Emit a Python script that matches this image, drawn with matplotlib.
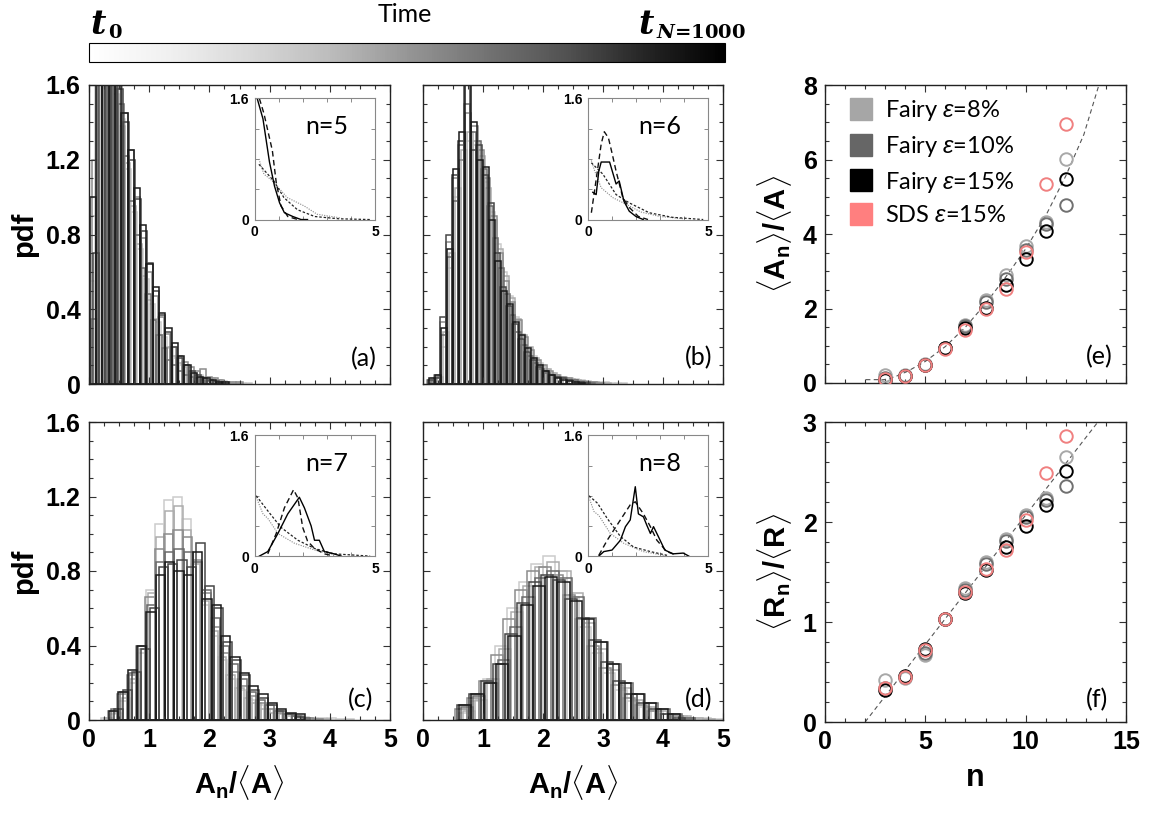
import numpy as np
import matplotlib
matplotlib.use('Agg')
import matplotlib.pyplot as plt
from matplotlib.lines import Line2D
from matplotlib.ticker import MultipleLocator, NullFormatter
from matplotlib.colorbar import ColorbarBase

plt.rcParams['mathtext.fontset'] = 'custom'
plt.rcParams['mathtext.rm'] = 'Liberation Sans'
plt.rcParams['mathtext.bf'] = 'Liberation Sans:bold'
plt.rcParams['mathtext.it'] = 'Liberation Sans:italic'

TICKFONT = dict(family='Liberation Sans', weight='bold', size=18)
CALIBRI = 'Lato'

# ---------------- histogram snapshots (pdf of A_n/<A>), light -> dark = early -> late
snap_greys = [0.8, 0.68, 0.55, 0.42, 0.28, 0.1]

# (a) n=5
a_starts = [0.0, 0.02, 0.05, 0.035, 0.065, 0.01]
a_widths = [0.1, 0.095, 0.1, 0.09, 0.1, 0.105]
a_snaps = [
    [0.55, 1.72, 1.85, 1.78, 1.62, 1.42, 1.15, 0.92, 0.72, 0.56, 0.43, 0.33, 0.25, 0.19, 0.14, 0.1, 0.08, 0.06, 0.05, 0.03, 0.03, 0.02, 0.015, 0.01, 0.01, 0.005, 0.005],
    [0.9, 1.8, 1.9, 1.7, 1.55, 1.38, 1.18, 0.95, 0.75, 0.58, 0.45, 0.35, 0.26, 0.2, 0.15, 0.11, 0.09, 0.07, 0.05, 0.04, 0.03, 0.02, 0.02, 0.01, 0.005, 0.005, 0],
    [1.2, 1.65, 1.75, 1.8, 1.6, 1.45, 1.25, 1.0, 0.78, 0.6, 0.47, 0.36, 0.27, 0.2, 0.15, 0.12, 0.09, 0.07, 0.08, 0.04, 0.03, 0.02, 0.01, 0.01, 0.01, 0, 0],
    [0.35, 1.6, 1.9, 1.85, 1.7, 1.5, 1.22, 0.98, 0.8, 0.62, 0.48, 0.34, 0.26, 0.19, 0.13, 0.1, 0.07, 0.05, 0.04, 0.03, 0.02, 0.015, 0.01, 0.005, 0, 0, 0],
    [0.7, 1.75, 1.8, 1.72, 1.58, 1.4, 1.2, 0.99, 0.82, 0.65, 0.5, 0.37, 0.28, 0.2, 0.14, 0.1, 0.07, 0.05, 0.03, 0.02, 0.015, 0.01, 0, 0, 0, 0, 0],
    [1.0, 1.85, 1.75, 1.65, 1.6, 1.45, 1.25, 1.05, 0.85, 0.64, 0.52, 0.38, 0.3, 0.22, 0.15, 0.1, 0.06, 0.04, 0.03, 0.02, 0.01, 0.01, 0, 0, 0, 0, 0],
]

# (b) n=6
b_starts = [0.1, 0.13, 0.07, 0.115, 0.085, 0.1]
b_widths = [0.1, 0.1, 0.105, 0.095, 0.1, 0.1]
b_snaps = [
    [0.02, 0.03, 0.2, 0.62, 1.0, 1.2, 1.3, 1.28, 1.2, 1.08, 0.92, 0.75, 0.6, 0.47, 0.36, 0.27, 0.2, 0.15, 0.11, 0.08, 0.06, 0.05, 0.04, 0.03, 0.025, 0.02, 0.015, 0.01, 0.01, 0.01, 0.005, 0.005, 0.005],
    [0.03, 0.04, 0.28, 0.7, 1.05, 1.25, 1.35, 1.3, 1.22, 1.05, 0.88, 0.72, 0.58, 0.46, 0.35, 0.26, 0.2, 0.14, 0.1, 0.08, 0.06, 0.04, 0.03, 0.025, 0.02, 0.015, 0.01, 0.01, 0.005, 0.005, 0, 0, 0],
    [0.02, 0.05, 0.33, 0.76, 1.1, 1.2, 1.45, 1.38, 1.25, 1.1, 0.9, 0.7, 0.55, 0.44, 0.34, 0.25, 0.18, 0.13, 0.1, 0.07, 0.05, 0.04, 0.03, 0.02, 0.015, 0.01, 0.01, 0.005, 0, 0, 0, 0, 0],
    [0.01, 0.04, 0.26, 0.68, 0.98, 1.28, 1.5, 1.35, 1.3, 1.15, 0.95, 0.78, 0.62, 0.48, 0.37, 0.28, 0.21, 0.15, 0.11, 0.08, 0.06, 0.05, 0.04, 0.03, 0.02, 0.02, 0.01, 0.01, 0.005, 0, 0, 0, 0],
    [0.02, 0.03, 0.36, 0.8, 1.12, 1.3, 1.62, 1.25, 1.28, 1.12, 0.97, 0.7, 0.52, 0.42, 0.32, 0.24, 0.17, 0.13, 0.09, 0.07, 0.05, 0.04, 0.03, 0.02, 0.01, 0.01, 0.005, 0, 0, 0, 0, 0, 0],
    [0.03, 0.05, 0.3, 0.72, 1.15, 1.35, 1.7, 1.4, 1.2, 1.16, 0.88, 0.66, 0.5, 0.43, 0.33, 0.26, 0.19, 0.14, 0.1, 0.07, 0.05, 0.03, 0.02, 0.015, 0.01, 0.005, 0, 0, 0, 0, 0, 0, 0],
]

# (c) n=7
c_starts = [0.2, 0.25, 0.16, 0.22, 0.27, 0.18]
c_widths = [0.15, 0.145, 0.155, 0.15, 0.15, 0.155]
c_snaps = [
    [0.01, 0.03, 0.1, 0.2, 0.36, 0.7, 1.05, 1.18, 1.2, 1.08, 0.85, 0.62, 0.45, 0.32, 0.22, 0.16, 0.11, 0.08, 0.06, 0.04, 0.03, 0.02, 0.015, 0.01, 0.01, 0.01, 0.005, 0.005],
    [0.01, 0.04, 0.12, 0.22, 0.38, 0.68, 0.98, 1.12, 1.15, 1.02, 0.84, 0.64, 0.48, 0.34, 0.24, 0.17, 0.12, 0.09, 0.06, 0.04, 0.03, 0.02, 0.01, 0.01, 0.005, 0.005, 0, 0],
    [0.0, 0.05, 0.14, 0.24, 0.4, 0.66, 0.92, 1.0, 1.02, 0.98, 0.86, 0.68, 0.5, 0.36, 0.26, 0.18, 0.13, 0.09, 0.06, 0.04, 0.03, 0.02, 0.01, 0.005, 0, 0, 0, 0],
    [0.0, 0.06, 0.15, 0.25, 0.4, 0.62, 0.85, 0.9, 0.92, 0.9, 0.85, 0.7, 0.55, 0.4, 0.3, 0.22, 0.15, 0.11, 0.08, 0.05, 0.03, 0.02, 0.01, 0, 0, 0, 0, 0],
    [0.0, 0.06, 0.16, 0.26, 0.38, 0.6, 0.82, 0.84, 0.86, 0.82, 0.95, 0.72, 0.6, 0.42, 0.32, 0.24, 0.16, 0.12, 0.08, 0.05, 0.03, 0.015, 0, 0, 0, 0, 0, 0],
    [0.0, 0.05, 0.15, 0.27, 0.4, 0.58, 0.78, 0.85, 0.8, 0.78, 0.9, 0.65, 0.62, 0.45, 0.34, 0.25, 0.18, 0.14, 0.09, 0.06, 0.04, 0.03, 0, 0, 0, 0, 0, 0],
]

# (d) n=8
d_starts = [0.6, 0.66, 0.54, 0.63, 0.57, 0.6]
d_widths = [0.2, 0.2, 0.2, 0.205, 0.2, 0.205]
d_snaps = [
    [0.04, 0.1, 0.22, 0.4, 0.6, 0.74, 0.84, 0.88, 0.8, 0.66, 0.5, 0.36, 0.25, 0.16, 0.1, 0.07, 0.05, 0.03, 0.02, 0.01, 0.01, 0.005],
    [0.05, 0.11, 0.22, 0.38, 0.58, 0.72, 0.82, 0.85, 0.8, 0.68, 0.52, 0.38, 0.27, 0.17, 0.11, 0.07, 0.05, 0.03, 0.02, 0.01, 0.005, 0.0],
    [0.06, 0.12, 0.21, 0.35, 0.54, 0.7, 0.8, 0.82, 0.78, 0.67, 0.54, 0.4, 0.28, 0.19, 0.12, 0.08, 0.05, 0.03, 0.02, 0.01, 0.0, 0.0],
    [0.07, 0.13, 0.2, 0.32, 0.5, 0.66, 0.76, 0.8, 0.76, 0.66, 0.55, 0.42, 0.3, 0.2, 0.14, 0.09, 0.06, 0.03, 0.01, 0.0, 0.0, 0.0],
    [0.08, 0.14, 0.21, 0.3, 0.46, 0.63, 0.74, 0.78, 0.75, 0.65, 0.55, 0.43, 0.31, 0.21, 0.14, 0.09, 0.06, 0.03, 0.01, 0.0, 0.0, 0.0],
    [0.08, 0.14, 0.2, 0.3, 0.45, 0.62, 0.72, 0.77, 0.74, 0.64, 0.54, 0.42, 0.3, 0.2, 0.14, 0.09, 0.06, 0.03, 0.0, 0.0, 0.0, 0.0],
]

# ---------------- inset curves (x, y) per panel
inset_a = {
    'solid':   ([0.11, 0.35, 0.62, 0.83, 1.04, 1.24, 1.59, 1.93, 2.2], [1.6, 1.33, 0.76, 0.44, 0.22, 0.09, 0.04, 0.0, 0.0]),
    'dashed':  ([0.2, 0.39, 0.74, 0.9, 1.1, 1.38, 1.8], [1.6, 1.4, 0.91, 0.49, 0.18, 0.04, 0.0]),
    'dashdot': ([0.18, 0.8, 1.22, 1.78, 2.5, 3.5, 4.8], [0.73, 0.51, 0.29, 0.13, 0.04, 0.01, 0.0]),
    'dotted':  ([0.18, 0.39, 0.67, 0.94, 1.36, 2.06, 2.6, 3.6], [0.8, 0.6, 0.53, 0.44, 0.29, 0.18, 0.07, 0.02]),
}
inset_b = {
    'solid':   ([0.2, 0.34, 0.45, 0.55, 0.9, 1.03, 1.17, 1.3, 1.5, 1.72, 2.0, 2.3], [0.36, 0.33, 0.64, 0.76, 0.76, 0.62, 0.47, 0.51, 0.24, 0.11, 0.04, 0.0]),
    'dashed':  ([0.14, 0.35, 0.55, 0.68, 0.85, 1.0, 1.17, 1.45, 1.72, 2.1, 2.5], [0.09, 0.55, 1.0, 1.16, 1.08, 0.88, 0.64, 0.29, 0.16, 0.04, 0.0]),
    'dashdot': ([0.14, 0.62, 1.17, 1.72, 2.55, 3.5, 4.8], [0.75, 0.6, 0.33, 0.22, 0.09, 0.03, 0.0]),
    'dotted':  ([0.14, 0.28, 0.55, 1.03, 1.6, 2.2, 3.0, 4.0], [0.78, 0.64, 0.42, 0.29, 0.2, 0.1, 0.04, 0.01]),
}
inset_c = {
    'solid':   ([0.2, 0.55, 0.97, 1.38, 1.86, 2.07, 2.35, 2.49, 2.69, 2.9, 3.3, 3.6], [0.0, 0.06, 0.3, 0.56, 0.78, 0.64, 0.4, 0.21, 0.21, 0.06, 0.03, 0.0]),
    'dashed':  ([0.55, 0.9, 1.24, 1.62, 1.8, 2.0, 2.2, 2.49, 2.9, 3.3], [0.03, 0.3, 0.64, 0.88, 0.77, 0.38, 0.2, 0.1, 0.03, 0.0]),
    'dashdot': ([0.07, 0.55, 1.1, 1.8, 2.5, 3.3, 4.8], [0.8, 0.6, 0.38, 0.21, 0.1, 0.03, 0.0]),
    'dotted':  ([0.07, 0.35, 0.55, 0.97, 1.66, 2.5, 3.3], [0.78, 0.56, 0.5, 0.3, 0.17, 0.08, 0.02]),
}
inset_d = {
    'solid':   ([0.45, 0.66, 1.0, 1.35, 1.56, 1.76, 1.97, 2.1, 2.31, 2.45, 2.6, 2.73, 2.93, 3.2, 3.55, 3.97, 4.2],
                [0.0, 0.06, 0.08, 0.21, 0.39, 0.48, 0.92, 0.56, 0.52, 0.41, 0.3, 0.39, 0.26, 0.08, 0.03, 0.04, 0.0]),
    'dashed':  ([0.45, 0.8, 1.35, 1.76, 1.97, 2.31, 2.6, 2.87, 3.28, 3.7], [0.01, 0.21, 0.48, 0.68, 0.72, 0.56, 0.39, 0.21, 0.06, 0.01]),
    'dashdot': ([0.04, 0.4, 0.8, 1.35, 1.9, 2.6, 3.3], [0.8, 0.7, 0.5, 0.26, 0.12, 0.06, 0.01]),
    'dotted':  ([0.04, 0.25, 0.45, 0.93, 1.49, 2.3, 3.3], [0.78, 0.59, 0.54, 0.3, 0.17, 0.06, 0.0]),
}

# ---------------- scatter panels
n_vals = [3, 4, 5, 6, 7, 8, 9, 10, 11, 12]
series_labels = ['Fairy $\\varepsilon$=8%', 'Fairy $\\varepsilon$=10%', 'Fairy $\\varepsilon$=15%', 'SDS $\\varepsilon$=15%']
e_fairy8 = [0.22, 0.21, 0.5, 0.94, 1.56, 2.24, 2.89, 3.69, 4.31, 6.02]
e_fairy10 = [0.13, 0.2, 0.49, 0.93, 1.52, 2.18, 2.8, 3.56, 4.27, 4.77]
e_fairy15 = [0.08, 0.2, 0.48, 0.93, 1.47, 2.02, 2.62, 3.33, 4.07, 5.48]
e_sds15 = [0.1, 0.19, 0.47, 0.91, 1.43, 1.98, 2.52, 3.53, 5.33, 6.96]
f_fairy8 = [0.42, 0.44, 0.67, 1.03, 1.34, 1.6, 1.83, 2.07, 2.24, 2.65]
f_fairy10 = [0.34, 0.45, 0.69, 1.03, 1.32, 1.58, 1.81, 2.05, 2.22, 2.36]
f_fairy15 = [0.32, 0.46, 0.73, 1.03, 1.29, 1.52, 1.75, 1.96, 2.17, 2.51]
f_sds15 = [0.34, 0.45, 0.72, 1.03, 1.3, 1.53, 1.72, 2.02, 2.49, 2.86]
e_fit_x = [2.04, 2.95, 3.5, 4.1, 5.0, 6.0, 7.0, 8.0, 9.0, 10.0, 11.0, 12.0, 12.9, 13.65]
e_fit_y = [0.09, 0.09, 0.17, 0.31, 0.58, 0.98, 1.5, 2.13, 2.84, 3.6, 4.49, 5.56, 6.67, 8.0]
f_fit_x = [2.0, 13.6]
f_fit_y = [0.0, 3.0]

circle_colors = ['#a8a8a8', '#707070', '#000000', '#f08080']
legend_colors = ['#a6a6a6', '#666666', '#000000', '#ff7f7f']

W, H = 1157, 816
fig = plt.figure(figsize=(W / 100, H / 100), dpi=100)


def box(x0, y0, x1, y1):
    return [x0 / W, 1 - y1 / H, (x1 - x0) / W, (y1 - y0) / H]


def style_axes(ax):
    for s in ax.spines.values():
        s.set_linewidth(1.0)
        s.set_color('#222222')
    ax.tick_params(which='both', direction='in', top=True, right=True, width=0.8, color='#333333')
    ax.tick_params(which='major', length=5, pad=6)
    ax.tick_params(which='minor', length=3)
    for lab in ax.get_xticklabels() + ax.get_yticklabels():
        lab.set_fontproperties(dict(TICKFONT))


def draw_hists(ax, starts, widths, snaps):
    for vals, x0, w, g in zip(snaps, starts, widths, snap_greys):
        vals = np.asarray(vals, dtype=float)
        lefts = x0 + w * np.arange(len(vals))
        keep = vals > 0
        ax.bar(lefts[keep], vals[keep], width=w, align='edge', fill=False,
               edgecolor=str(g), linewidth=1.1)


def draw_inset(ax, curves, label):
    ins = ax.inset_axes([0.55, 0.55, 0.40, 0.405])
    x, y = curves['dotted']
    ins.plot(x, y, color='#888888', lw=0.8, ls=(0, (1, 1.2)))
    x, y = curves['dashdot']
    ins.plot(x, y, color='#222222', lw=0.9, ls=(0, (2, 1.5)))
    x, y = curves['dashed']
    ins.plot(x, y, color='#111111', lw=1.0, ls=(0, (4, 2.5)))
    x, y = curves['solid']
    ins.plot(x, y, color='#000000', lw=1.0)
    ins.set_xlim(0, 5)
    ins.set_ylim(0, 1.6)
    ins.set_xticks([0, 5])
    ins.set_yticks([0, 1.6])
    ins.set_yticklabels(['0', '1.6'])
    ins.xaxis.set_minor_locator(MultipleLocator(1))
    ins.yaxis.set_minor_locator(MultipleLocator(0.4))
    ins.tick_params(which='both', direction='in', top=True, right=True, color='#777777', width=0.6)
    ins.tick_params(which='major', length=0, pad=4)
    ins.tick_params(which='minor', length=3)
    for lab in ins.get_xticklabels() + ins.get_yticklabels():
        lab.set_fontproperties(dict(family='Liberation Sans', weight='bold', size=10))
    for s in ins.spines.values():
        s.set_color('#888888')
        s.set_linewidth(0.8)
    ins.text(0.6, 0.77, label, transform=ins.transAxes, ha='center', va='center',
             family=CALIBRI, fontsize=18)


hist_specs = [
    ('a', box(89, 85, 390, 384), a_starts, a_widths, a_snaps, inset_a, 'n=5', (0.955, 0.045)),
    ('b', box(423, 85, 723, 384), b_starts, b_widths, b_snaps, inset_b, 'n=6', (0.965, 0.05)),
    ('c', box(89, 422, 390, 720), c_starts, c_widths, c_snaps, inset_c, 'n=7', (0.945, 0.03)),
    ('d', box(423, 422, 723, 720), d_starts, d_widths, d_snaps, inset_d, 'n=8', (0.965, 0.03)),
]

for key, rect, starts, widths, snaps, curves, nlabel, tpos in hist_specs:
    ax = fig.add_axes(rect)
    draw_hists(ax, starts, widths, snaps)
    ax.set_xlim(0, 5)
    ax.set_ylim(0, 1.6)
    ax.set_xticks([0, 1, 2, 3, 4, 5])
    ax.set_yticks([0, 0.4, 0.8, 1.2, 1.6])
    ax.set_yticklabels(['0', '0.4', '0.8', '1.2', '1.6'])
    ax.xaxis.set_minor_locator(MultipleLocator(0.25))
    ax.yaxis.set_minor_locator(MultipleLocator(0.1))
    style_axes(ax)
    if key in ('a', 'b'):
        ax.xaxis.set_major_formatter(NullFormatter())
    else:
        ax.set_xlabel(r'$\mathbf{A_n/\langle A\rangle}$', fontsize=21, labelpad=8)
    if key in ('b', 'd'):
        ax.yaxis.set_major_formatter(NullFormatter())
    else:
        ax.set_ylabel('pdf', family='Liberation Sans', weight='bold', fontsize=21)
        ax.yaxis.set_label_coords(-0.17, 0.5)
    draw_inset(ax, curves, nlabel)
    ax.text(tpos[0], tpos[1], '(%s)' % key, transform=ax.transAxes, ha='right', va='bottom',
            family=CALIBRI, fontsize=18)

# ---------------- (e) and (f)
scatter_specs = [
    ('e', box(825, 85, 1126, 383), [e_fairy8, e_fairy10, e_fairy15, e_sds15], e_fit_x, e_fit_y,
     (0, 8), [0, 2, 4, 6, 8], 0.5, r'$\mathbf{\langle A_n\rangle/\langle A\rangle}$', (0.957, 0.05)),
    ('f', box(825, 422, 1126, 722), [f_fairy8, f_fairy10, f_fairy15, f_sds15], f_fit_x, f_fit_y,
     (0, 3), [0, 1, 2, 3], 0.2, r'$\mathbf{\langle R_n\rangle/\langle R\rangle}$', (0.94, 0.035)),
]

for key, rect, series, fx, fy, ylim, yticks, yminor, ylabel, tpos in scatter_specs:
    ax = fig.add_axes(rect)
    ax.plot(fx, fy, color='#555555', lw=0.8, ls=(0, (4, 3)), zorder=1)
    order = [3, 0, 1, 2]
    for i in order:
        ax.plot(n_vals, series[i], ls='none', marker='o', ms=9, mfc='none',
                mec=circle_colors[i], mew=1.4, zorder=2 + i)
    ax.set_xlim(0, 15)
    ax.set_ylim(*ylim)
    ax.set_xticks([0, 5, 10, 15])
    ax.set_yticks(yticks)
    ax.xaxis.set_minor_locator(MultipleLocator(1))
    ax.yaxis.set_minor_locator(MultipleLocator(yminor))
    style_axes(ax)
    ax.set_ylabel(ylabel, fontsize=21, labelpad=6)
    if key == 'e':
        ax.xaxis.set_major_formatter(NullFormatter())
        handles = [Line2D([], [], ls='none', marker='s', ms=16, mfc=c, mec=c) for c in legend_colors]
        ax.legend(handles, series_labels, loc='upper left', bbox_to_anchor=(0.04, 0.995), frameon=False,
                  prop=dict(family=CALIBRI, size=17), handlelength=1.0, handletextpad=0.55,
                  labelspacing=0.45, borderaxespad=0.3, borderpad=0.2)
    else:
        ax.set_xlabel('n', family='Liberation Sans', weight='bold', fontsize=22, labelpad=6)
    ax.text(tpos[0], tpos[1], '(%s)' % key, transform=ax.transAxes, ha='right', va='bottom',
            family=CALIBRI, fontsize=18)

# ---------------- time colour bar
cax = fig.add_axes(box(89, 43, 725, 62))
ColorbarBase(cax, cmap=plt.get_cmap('Greys'), orientation='horizontal', ticks=[])
for s in cax.spines.values():
    s.set_linewidth(0.8)
fig.text(405 / W, 1 - 14 / H, 'Time', ha='center', va='center', family=CALIBRI, fontsize=18)
fig.text(90 / W, 1 - 34 / H, r'$\mathbfit{t}$', ha='left', va='baseline',
         fontsize=24, math_fontfamily='dejavuserif')
fig.text(108 / W, 1 - 38 / H, '0', ha='left', va='baseline',
         family='DejaVu Serif', weight='bold', fontsize=14)
fig.text(638 / W, 1 - 34 / H, r'$\mathbfit{t}$', ha='left', va='baseline',
         fontsize=24, math_fontfamily='dejavuserif')
fig.text(656 / W, 1 - 38 / H, r'$\mathbfit{N}$=1000', ha='left', va='baseline',
         family='DejaVu Serif', weight='bold', fontsize=14, math_fontfamily='dejavuserif')

fig.savefig('out.png', dpi=100)
